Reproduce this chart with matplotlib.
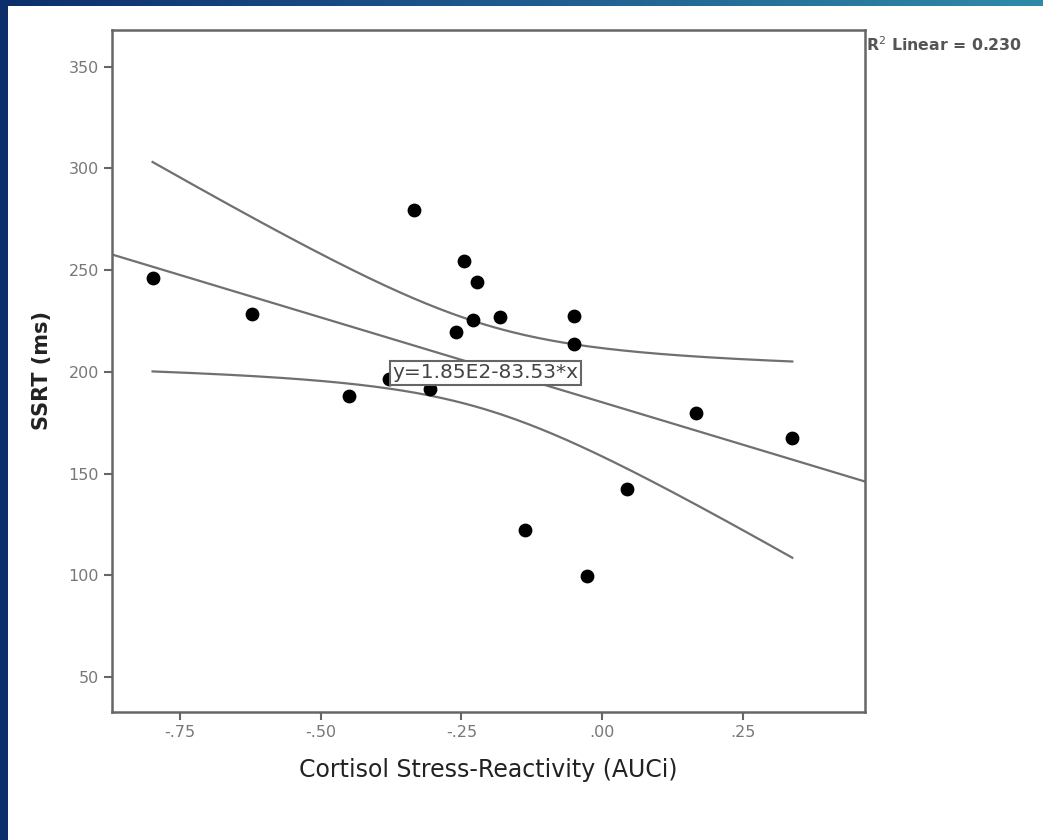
import numpy as np
import matplotlib
matplotlib.use("Agg")
import matplotlib.pyplot as plt

# data
auci = [-0.798, -0.621, -0.450, -0.378, -0.335, -0.305, -0.259, -0.246, -0.230,
        -0.222, -0.181, -0.138, -0.051, -0.051, -0.028, 0.043, 0.167, 0.337]
ssrt = [246.2, 228.5, 188.2, 196.6, 279.6, 191.6, 219.7, 254.6, 225.6,
        244.2, 227.0, 122.3, 227.5, 213.8, 99.7, 142.5, 179.8, 167.6]
intercept = 185.0
slope = -83.53
r2_text = "R$^2$ Linear = 0.230"
eq_text = "y=1.85E2-83.53*x"
xticks = [-0.75, -0.50, -0.25, 0.00, 0.25]
xticklabels = ["-.75", "-.50", "-.25", ".00", ".25"]
yticks = [50, 100, 150, 200, 250, 300, 350]

x = np.array(auci)
y = np.array(ssrt)

fig = plt.figure(figsize=(10.43, 8.4), dpi=100)
fig.patch.set_facecolor("white")

# slide frame: dark blue strip on the left, gradient strip on top
left_strip = fig.add_axes([0, 0, 8 / 1043, 1])
left_strip.set_facecolor("#0c2f6b")
left_strip.set_xticks([])
left_strip.set_yticks([])
for s in left_strip.spines.values():
    s.set_visible(False)
top_strip = fig.add_axes([0, 1 - 6 / 840, 1, 6 / 840])
grad = np.linspace(0, 1, 256).reshape(1, -1)
cmap = matplotlib.colors.LinearSegmentedColormap.from_list(
    "slide", ["#0c2e6c", "#1f5b8e", "#2f8aa8"])
top_strip.imshow(grad, aspect="auto", cmap=cmap)
top_strip.set_axis_off()

ax = fig.add_axes([112 / 1043, 1 - 712 / 840, (865 - 112) / 1043, (712 - 30) / 840])

xmin, xmax = -0.87, 0.466
ymin, ymax = 32.8, 368.0

# fit line across the whole axis
xl = np.array([xmin, xmax])
ax.plot(xl, intercept + slope * xl, color="#707070", lw=1.6, zorder=2)

# 95% mean confidence band over the data range
n = len(x)
b1, b0 = np.polyfit(x, y, 1)
res = y - (b0 + b1 * x)
s = np.sqrt(np.sum(res ** 2) / (n - 2))
sxx = np.sum((x - x.mean()) ** 2)
t = 2.08
xc = np.linspace(x.min(), x.max(), 200)
yc = intercept + slope * xc
half = t * s * np.sqrt(1 / n + (xc - x.mean()) ** 2 / sxx)
ax.plot(xc, yc + half, color="#707070", lw=1.6, zorder=2)
ax.plot(xc, yc - half, color="#707070", lw=1.6, zorder=2)

ax.scatter(x, y, s=80, color="black", zorder=3)

ax.text(-0.372, 199.5, eq_text, ha="left", va="center", fontsize=14.5,
        color="#444444", zorder=4,
        bbox=dict(boxstyle="square,pad=0.12", facecolor="white",
                  edgecolor="#666666", lw=1.5))

ax.set_xlim(xmin, xmax)
ax.set_ylim(ymin, ymax)
ax.set_xticks(xticks)
ax.set_xticklabels(xticklabels)
ax.set_yticks(yticks)
ax.tick_params(direction="out", length=6, width=1.5, color="#666666",
               labelcolor="#777777", labelsize=11.5)
for sp in ax.spines.values():
    sp.set_color("#666666")
    sp.set_linewidth(1.8)

ax.set_xlabel("Cortisol Stress-Reactivity (AUCi)", fontsize=17,
              fontweight="medium", color="#222222", labelpad=13)
ax.set_ylabel("SSRT (ms)", fontsize=15, fontweight="bold",
              color="#222222", labelpad=12)

fig.text(866 / 1043, 1 - 45 / 840, r2_text, fontsize=11.3, fontweight="semibold",
         color="#555555", ha="left", va="center")

fig.savefig("out.png", dpi=100, facecolor="white")
